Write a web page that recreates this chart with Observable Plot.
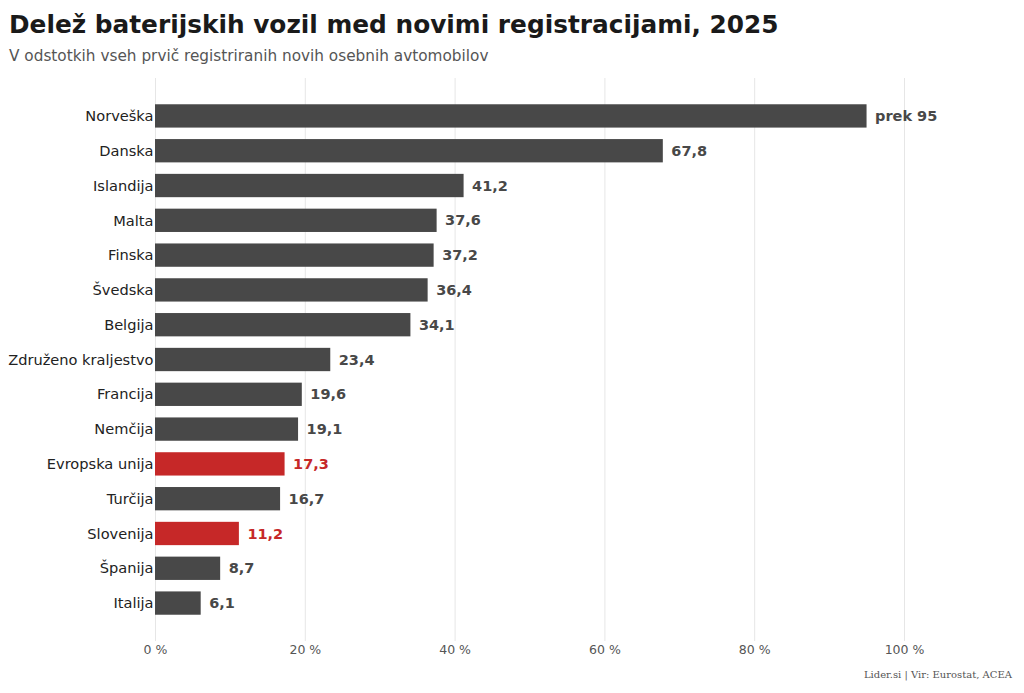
<!DOCTYPE html>
<html>
<head>
<meta charset="utf-8">
<script src="https://cdn.jsdelivr.net/npm/d3@7"></script>
<script src="https://cdn.jsdelivr.net/npm/@observablehq/plot@0.6"></script>
<style>
  html, body { margin: 0; padding: 0; background: #fff; }
  body { width: 1024px; height: 693px; position: relative; overflow: hidden; font-family: "DejaVu Sans", sans-serif; }
  #title { position: absolute; left: 9px; top: 10px; font-size: 24.8px; font-weight: bold; color: #1a1a1a; white-space: nowrap; }
  #subtitle { position: absolute; left: 9px; top: 47px; font-size: 15.3px; color: #555; white-space: nowrap; }
  #chart { position: absolute; left: 0; top: 70px; }
  #caption { position: absolute; right: 12px; top: 669px; font-size: 10px; color: #555; font-family: "DejaVu Serif", serif; white-space: nowrap; }
</style>
</head>
<body>
<div id="title">Delež baterijskih vozil med novimi registracijami, 2025</div>
<div id="subtitle">V odstotkih vseh prvič registriranih novih osebnih avtomobilov</div>
<div id="chart"></div>
<div id="caption">Lider.si | Vir: Eurostat, ACEA</div>
<script>
const countries = ["Norveška","Danska","Islandija","Malta","Finska","Švedska","Belgija","Združeno kraljestvo","Francija","Nemčija","Evropska unija","Turčija","Slovenija","Španija","Italija"];
const shares = [95, 67.8, 41.2, 37.6, 37.2, 36.4, 34.1, 23.4, 19.6, 19.1, 17.3, 16.7, 11.2, 8.7, 6.1];
const valueLabels = ["prek 95","67,8","41,2","37,6","37,2","36,4","34,1","23,4","19,6","19,1","17,3","16,7","11,2","8,7","6,1"];
const highlighted = ["Evropska unija","Slovenija"];
const xTicks = [0, 20, 40, 60, 80, 100];

const data = countries.map((c, i) => ({country: c, value: shares[i], label: valueLabels[i], hl: highlighted.includes(c)}));
const grey = "#484848", red = "#c62828";

const chart = Plot.plot({
  width: 1024,
  height: 601,
  marginLeft: 155,
  marginRight: 120,
  marginTop: 8,
  marginBottom: 30,
  style: {fontFamily: "DejaVu Sans, sans-serif", background: "transparent"},
  x: {domain: [0, 100], ticks: xTicks, label: null, tickFormat: d => d + " %"},
  y: {domain: countries, paddingInner: 0.33, paddingOuter: 0.755, round: false, label: null},
  marks: [
    Plot.gridX(xTicks, {stroke: "#e6e6e6", strokeOpacity: 1, strokeWidth: 1}),
    Plot.barX(data, {x: "value", y: "country", fill: d => d.hl ? red : grey}),
    Plot.text(data, {x: "value", y: "country", text: "label", textAnchor: "start", dx: 8, fontWeight: "bold", fontSize: 14.5, fill: d => d.hl ? red : "#484848"}),
    Plot.axisX(xTicks, {tickSize: 0, tickPadding: 4, fontSize: 12.5, color: "#555", label: null, tickFormat: d => d + " %"}),
    Plot.axisY({tickSize: 0, tickPadding: 2, fontSize: 14.6, color: "#222", label: null})
  ]
});
document.getElementById("chart").appendChild(chart);
</script>
</body>
</html>
